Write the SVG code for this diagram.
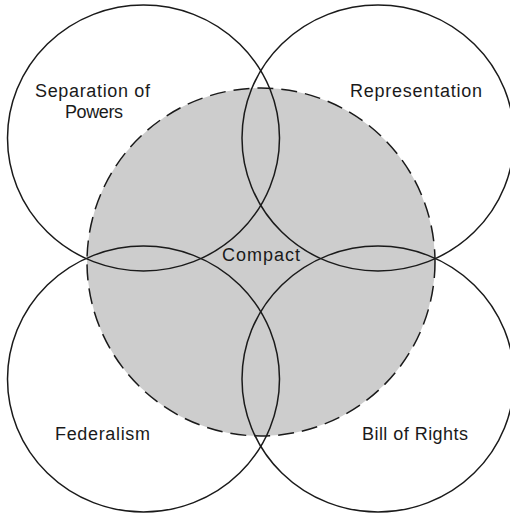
<svg xmlns="http://www.w3.org/2000/svg" width="510" height="514" viewBox="0 0 510 514">
<style>
.ring{fill:none;stroke:#1a1a1a;stroke-width:1.5}
.core{fill:#cdcdcd;stroke:#1a1a1a;stroke-width:1.5;stroke-dasharray:16 8}
.lbl{font-family:"Liberation Sans",Arial,sans-serif;font-size:18px;fill:#1a1a1a}
</style>
<rect width="510" height="514" fill="#ffffff"/>
<g id="compact">
<circle class="core" cx="261" cy="262" r="174"/>
<text class="lbl" x="222" y="261" textLength="78" lengthAdjust="spacing">Compact</text>
</g>
<g id="separation-of-powers">
<ellipse class="ring" cx="143.5" cy="138" rx="136" ry="133"/>
<text class="lbl" x="35" y="97" textLength="115" lengthAdjust="spacing">Separation of</text>
<text class="lbl" x="65" y="118" textLength="58" lengthAdjust="spacing">Powers</text>
</g>
<g id="representation">
<ellipse class="ring" cx="378" cy="138" rx="136" ry="133"/>
<text class="lbl" x="350" y="97" textLength="132" lengthAdjust="spacing">Representation</text>
</g>
<g id="federalism">
<ellipse class="ring" cx="143.5" cy="379" rx="136" ry="133"/>
<text class="lbl" x="55" y="440" textLength="95" lengthAdjust="spacing">Federalism</text>
</g>
<g id="bill-of-rights">
<ellipse class="ring" cx="378" cy="379" rx="136" ry="133"/>
<text class="lbl" x="362" y="440" textLength="106" lengthAdjust="spacing">Bill of Rights</text>
</g>
<g id="connectors"></g>
</svg>
